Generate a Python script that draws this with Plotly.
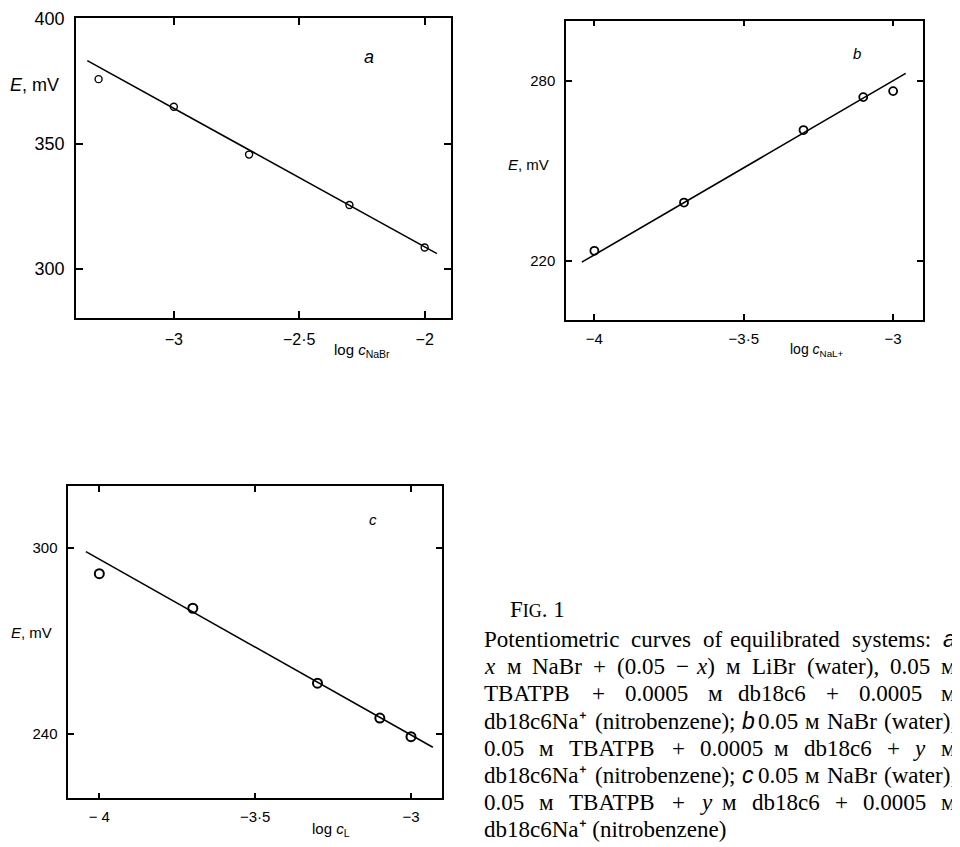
import re
import plotly.graph_objects as go

# page offset of the plot div (browser body margin) and figure size
OFF = 8
W, H = 960 - OFF, 847 - OFF

# ---------------- data ----------------
a_x = [-3.3, -3.0, -2.7, -2.3, -2.0]
a_y = [375.7, 364.7, 345.6, 325.5, 308.5]
a_fit_x = [-3.345, -1.951]
a_fit_y = [383.1, 306.1]
a_xticks = [-3.0, -2.5, -2.0]
a_xticktext = ["\u22123", "\u22122\u00b75", "\u22122"]
a_yticks = [300, 350, 400]
a_yticktext = ["300", "350", "400"]

b_x = [-4.0, -3.7, -3.3, -3.1, -3.0]
b_y = [223.3, 239.4, 263.6, 274.6, 276.6]
b_fit_x = [-4.042, -2.958]
b_fit_y = [219.5, 282.5]
b_xticks = [-4.0, -3.5, -3.0]
b_xticktext = ["\u22124", "\u22123\u00b75", "\u22123"]
b_yticks = [220, 280]
b_yticktext = ["220", "280"]

c_x = [-4.0, -3.7, -3.3, -3.1, -3.0]
c_y = [291.6, 280.5, 256.4, 245.2, 239.2]
c_fit_x = [-4.043, -2.930]
c_fit_y = [298.7, 235.8]
c_xticks = [-4.0, -3.5, -3.0]
c_xticktext = ["\u2212 4", "\u22123\u00b75", "\u22123"]
c_yticks = [240, 300]
c_yticktext = ["240", "300"]

caption_title = "F<span style='font-size:18px'>IG</span>. 1"
caption_lines = [
    "Potentiometric curves of equilibrated systems: @a",
    "<i>x</i> \u043c NaBr + (0.05 \u2212 <i>x</i>) \u043c LiBr (water), 0.05 \u043c",
    "TBATPB + 0.0005 \u043c db18c6 + 0.0005 \u043c",
    "db18c6Na\u207a (nitrobenzene); @b 0.05 \u043c NaBr (water),",
    "0.05 \u043c TBATPB + 0.0005 \u043c db18c6 + <i>y</i> \u043c",
    "db18c6Na\u207a (nitrobenzene); @c 0.05 \u043c NaBr (water),",
    "0.05 \u043c TBATPB + <i>y</i> \u043c db18c6 + 0.0005 \u043c",
    "db18c6Na\u207a (nitrobenzene)",
]

# ---------------- helpers (page pixel -> paper) ----------------
def px(x):
    return (x - OFF) / W

def py(y):
    return 1 - (y - OFF) / H

fig = go.Figure()

def add_panel(idx, xs, ys, fx, fy, msize, mlw):
    xa = "x" if idx == 1 else f"x{idx}"
    ya = "y" if idx == 1 else f"y{idx}"
    fig.add_trace(go.Scatter(x=fx, y=fy, mode="lines", xaxis=xa, yaxis=ya,
                             line=dict(color="black", width=1.6), hoverinfo="skip"))
    fig.add_trace(go.Scatter(x=xs, y=ys, mode="markers", xaxis=xa, yaxis=ya,
                             marker=dict(symbol="circle-open", size=msize, color="black",
                                         line=dict(color="black", width=mlw))))

add_panel(1, a_x, a_y, a_fit_x, a_fit_y, 7, 1.4)
add_panel(2, b_x, b_y, b_fit_x, b_fit_y, 8, 1.8)
add_panel(3, c_x, c_y, c_fit_x, c_fit_y, 9, 2.0)

def axis(domain, rng, tv, tt, fs, tlen, standoff, anchor):
    return dict(domain=domain, range=rng, tickvals=tv, ticktext=tt, anchor=anchor,
                ticks="inside", ticklen=tlen, tickwidth=1.5, tickcolor="black",
                showline=True, linewidth=1.5, linecolor="black", mirror="ticks",
                showgrid=False, zeroline=False, fixedrange=True, automargin=False,
                tickfont=dict(family="Liberation Sans, Arial, sans-serif", size=fs, color="black"),
                ticklabelstandoff=standoff)

fig.update_layout(
    width=W, height=H, margin=dict(l=0, r=0, t=0, b=0, autoexpand=False),
    plot_bgcolor="white", paper_bgcolor="white", showlegend=False,
    xaxis=axis([px(76), px(451)], [-3.39, -1.895], a_xticks, a_xticktext, 16, 7, 6, "y"),
    yaxis=axis([py(318), py(18)], [280.4, 400.1], a_yticks, a_yticktext, 18, 7, 6, "x"),
    xaxis2=axis([px(566), px(923)], [-4.095, -2.90], b_xticks, b_xticktext, 15, 6, 4, "y2"),
    yaxis2=axis([py(320), py(20.7)], [200.2, 300.1], b_yticks, b_yticktext, 15, 6, 6, "x2"),
    xaxis3=axis([px(68.3), px(441.7)], [-4.0995, -2.9015], c_xticks, c_xticktext, 15, 6, 4, "y3"),
    yaxis3=axis([py(798.3), py(486)], [219.4, 319.8], c_yticks, c_yticktext, 15, 6, 6, "x3"),
)

SANS = "Liberation Sans, Arial, sans-serif"
SERIF = "Liberation Serif, Times New Roman, serif"

def ann(text, x, y, size, family=SANS, xanchor="center", yanchor="middle"):
    fig.add_annotation(text=text, x=px(x), y=py(y), xref="paper", yref="paper",
                       showarrow=False, xanchor=xanchor, yanchor=yanchor,
                       font=dict(family=family, size=size, color="black"))

# panel labels and axis titles
ann("<i>a</i>", 369, 57, 18)
ann("<i>b</i>", 857, 54, 15)
ann("<i>c</i>", 373, 519, 15)
ann("<i>E</i>, mV", 34, 85, 18)
ann("<i>E</i>, mV", 528, 165, 15)
ann("<i>E</i>, mV", 31, 632, 15)
ann("log <i>c</i><sub>NaBr</sub>", 332, 350, 15, xanchor="left")
ann("log <i>c</i><sub>NaL+</sub>", 788, 350, 14, xanchor="left")
ann("log <i>c</i><sub>L</sub>", 310, 829, 15, xanchor="left")

# ---------------- caption (justified by word placement) ----------------
CW = {' ': 250, '(': 333, ')': 333, '+': 564, ',': 250, '.': 250, ':': 278, ';': 278,
      '\u2212': 564, '\u043c': 640, '\u207a': 400,
      'A': 722, 'B': 667, 'L': 611, 'N': 722, 'P': 556, 'T': 611,
      'a': 444, 'b': 500, 'c': 444, 'd': 500, 'e': 444, 'f': 333, 'i': 278, 'l': 278,
      'm': 778, 'n': 500, 'o': 500, 'q': 500, 'r': 333, 's': 389, 't': 278, 'u': 500,
      'v': 500, 'w': 722, 'x': 500, 'y': 500, 'z': 444}
for d in "0123456789":
    CW[d] = 500

FS = 23

def word_width(w):
    if w.startswith("@"):
        return 0.556 * FS
    total = 0.0
    for part in re.split(r"(<[^>]+>)", w):
        if part.startswith("<"):
            continue
        for ch in part:
            total += CW.get(ch, 500)
    return total / 1000 * FS

LEFT, RIGHT = 482, 958
BASE0, STEP = 648, 27.2

ann(caption_title, 508, 618 + 6, FS, family=SERIF, xanchor="left", yanchor="bottom")

def word_ann(w, x, y, xanchor):
    if w.startswith("@"):
        ann("<i>" + w[1:] + "</i>", x, y, FS, family=SANS, xanchor=xanchor, yanchor="bottom")
    else:
        ann(w, x, y, FS, family=SERIF, xanchor=xanchor, yanchor="bottom")

for i, line in enumerate(caption_lines):
    base = BASE0 + i * STEP
    words = line.split(" ")
    widths = [word_width(w) for w in words]
    n = len(words)
    if i < len(caption_lines) - 1:
        gap = (RIGHT - LEFT - sum(widths)) / (n - 1)
        half = n // 2
        x = LEFT
        for w, wd in zip(words[:half], widths[:half]):
            word_ann(w, x, base + 6, "left")
            x += wd + gap
        xr = RIGHT
        for w, wd in zip(reversed(words[half:]), reversed(widths[half:])):
            word_ann(w, xr, base + 6, "right")
            xr -= wd + gap
    else:
        ann(line.replace(" ", "\u00a0"), LEFT, base + 6, FS, family=SERIF,
            xanchor="left", yanchor="bottom")

fig.write_html("out.html")
